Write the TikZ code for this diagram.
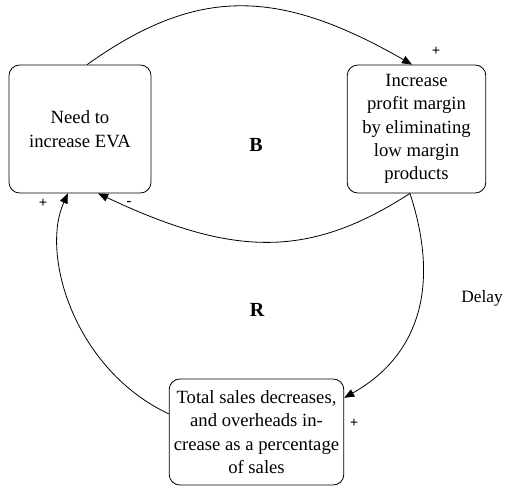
\documentclass[tikz,border=0pt]{standalone}
\usepackage{fontspec}
\setmainfont{Liberation Serif}
\usetikzlibrary{arrows.meta,calc}
\begin{document}
\begin{tikzpicture}[x=0.75pt,y=-0.75pt,
  varbox/.style={draw,rounded corners=8pt,line width=0.6pt,align=center,
    font=\fontsize{14}{17.5}\selectfont,inner sep=0pt},
  link/.style={line width=0.6pt,-{Triangle[length=7.5pt,width=6pt]}},
  pol/.style={font=\bfseries\fontsize{11}{12}\selectfont},
  looplabel/.style={font=\bfseries\fontsize{15}{17}\selectfont}]
  \useasboundingbox (0,0) rectangle (507,486);

  % stocks of the causal loop
  \node[varbox,minimum width=106.5pt,minimum height=96pt] (eva) at (80,129)
    {\raisebox{-6pt}{\parbox{100pt}{\centering Need to\\increase EVA}}};
  \node[varbox,minimum width=104pt,minimum height=96pt] (margin) at (416.5,129)
    {Increase\\profit margin\\by eliminating\\low margin\\products};
  \node[varbox,minimum width=131pt,minimum height=79.5pt] (sales) at (256.5,432)
    {Total sales decreases,\\and overheads in-\\crease as a percentage\\of sales};

  % attachment points on the boxes
  \coordinate (evaTop) at ($(eva.north west)!0.55!(eva.north east)$);
  \coordinate (evaInR) at ($(eva.south west)!0.415!(eva.south east)$);
  \coordinate (evaInB) at ($(eva.south west)!0.627!(eva.south east)$);
  \coordinate (marTop) at ($(margin.north west)!0.468!(margin.north east)$);
  \coordinate (marBot) at ($(margin.south west)!0.453!(margin.south east)$);
  \coordinate (salIn) at ($(sales.north east)!0.18!(sales.south east)$);
  \coordinate (salOut) at ($(sales.north west)!0.33!(sales.south west)$);

  % balancing loop
  \draw[link] (evaTop) .. controls (196,-13) and (277,-13) .. (marTop);
  \draw[link] (marBot) .. controls (310,258) and (235,258) .. (evaInB);
  % reinforcing loop
  \draw[link] (marBot) .. controls (440,285) and (420,355) .. (salIn);
  \draw[link] (salOut) .. controls (75,370) and (40,255) .. (evaInR);

  % polarities
  \node[pol] (p1) at (436,51) {+};
  \node[pol] (p2) at (129,203) {-};
  \node[pol] (p3) at (43,203) {+};
  \node[pol] (p4) at (354,423) {+};

  % loop identifiers and delay mark
  \node[looplabel] (lb) at (256,145) {B};
  \node[looplabel] (lr) at (257,310) {R};
  \node[font=\fontsize{13}{15}\selectfont] (dl) at (482,298) {Delay};
\end{tikzpicture}
\end{document}
